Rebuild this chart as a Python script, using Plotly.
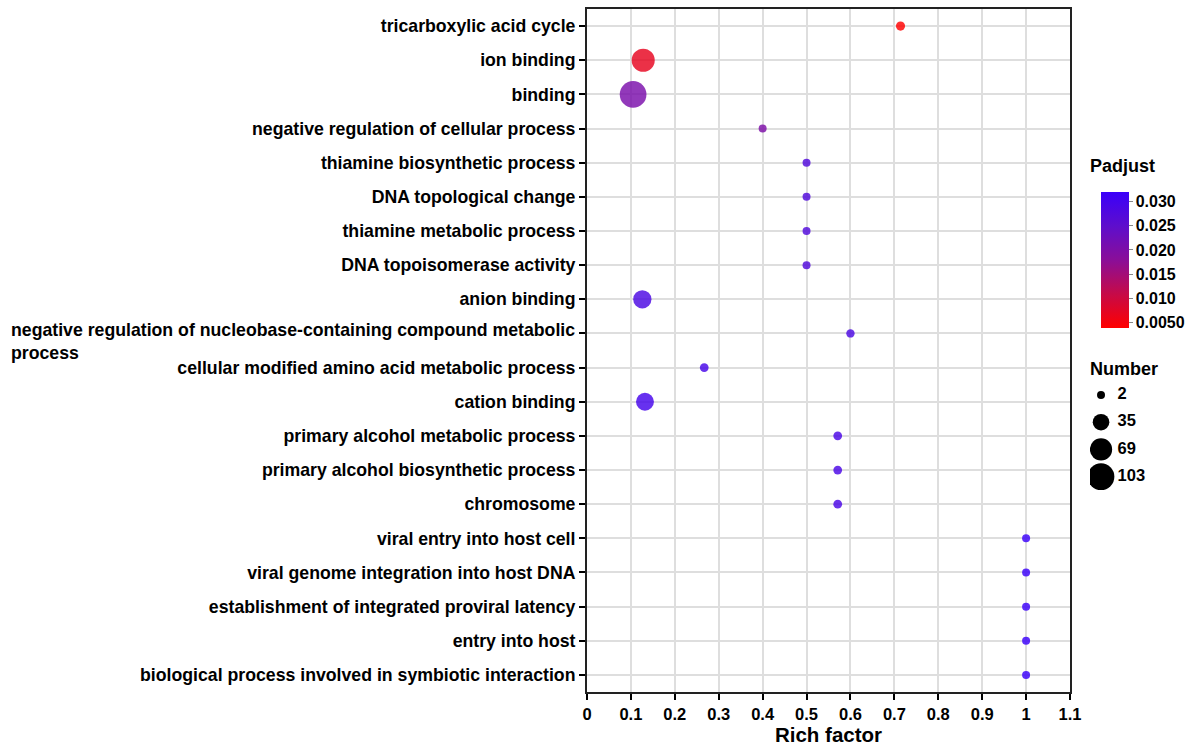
import math
import plotly.graph_objects as go

# ---------------- data ----------------
terms = [
    "tricarboxylic acid cycle",
    "ion binding",
    "binding",
    "negative regulation of cellular process",
    "thiamine biosynthetic process",
    "DNA topological change",
    "thiamine metabolic process",
    "DNA topoisomerase activity",
    "anion binding",
    "negative regulation of nucleobase-containing compound metabolic process",
    "cellular modified amino acid metabolic process",
    "cation binding",
    "primary alcohol metabolic process",
    "primary alcohol biosynthetic process",
    "chromosome",
    "viral entry into host cell",
    "viral genome integration into host DNA",
    "establishment of integrated proviral latency",
    "entry into host",
    "biological process involved in symbiotic interaction",
]
rich_factor = [0.714, 0.128, 0.105, 0.40, 0.50, 0.50, 0.50, 0.50, 0.126, 0.60,
               0.267, 0.132, 0.571, 0.571, 0.571, 1.0, 1.0, 1.0, 1.0, 1.0]
number = [5, 75, 103, 2, 2, 2, 2, 2, 44, 3,
          4, 42, 4, 4, 4, 2, 2, 2, 2, 2]
padjust = [0.0039, 0.0068, 0.0205, 0.0200, 0.0275, 0.0275, 0.0275, 0.0275, 0.0285, 0.0285,
           0.0295, 0.0300, 0.0290, 0.0290, 0.0290, 0.0321, 0.0321, 0.0321, 0.0321, 0.0321]

x_ticks = [0, 0.1, 0.2, 0.3, 0.4, 0.5, 0.6, 0.7, 0.8, 0.9, 1.0, 1.1]
x_ticktext = ["0", "0.1", "0.2", "0.3", "0.4", "0.5", "0.6", "0.7", "0.8", "0.9", "1", "1.1"]
cb_ticks = [0.005, 0.010, 0.015, 0.020, 0.025, 0.030]
cb_ticktext = ["0.0050", "0.010", "0.015", "0.020", "0.025", "0.030"]
legend_numbers = [2, 35, 69, 103]

# ---------------- styling ----------------
FONT = "Liberation Sans, Arial, sans-serif"
CMIN, CMAX = 0.00388, 0.03207
colorscale = [[0.0, "#FF0000"], [0.25, "#C60A48"], [0.5, "#8A0E98"],
              [0.75, "#5E0ECC"], [1.0, "#3A00FA"]]
VMIN, VMAX = min(legend_numbers), max(legend_numbers)
DMIN, DMAX = 8.0, 26.7


def size_px(v):
    # ggplot-like area scale: area linear in value between DMIN and DMAX
    t = (v - VMIN) / (VMAX - VMIN)
    return math.sqrt(DMIN ** 2 + t * (DMAX ** 2 - DMIN ** 2))


WRAP_TERM = "negative regulation of nucleobase-containing compound metabolic process"
y_ticktext = ["" if t == WRAP_TERM else t for t in terms]

L, R, T, B = 587, 0, 9, 54
W, H = 1192, 746
PW, PH = W - L - R, H - T - B
MAIN_RIGHT = 1070


def px_x(p):
    return (p - L) / PW


def px_y(p):
    return (H - B - p) / PH


YFONT = 17.7

fig = go.Figure()

fig.add_trace(go.Scatter(
    x=rich_factor, y=terms, mode="markers",
    marker=dict(
        size=[size_px(v) for v in number],
        color=padjust, colorscale=colorscale, cmin=CMIN, cmax=CMAX,
        opacity=0.82, line=dict(width=0),
        colorbar=dict(
            thickness=28, thicknessmode="pixels",
            len=136, lenmode="pixels",
            x=px_x(1100.7), xanchor="left", xpad=0,
            y=px_y(191.7), yanchor="top", ypad=0,
            tickvals=cb_ticks, ticktext=cb_ticktext,
            ticks="outside", ticklen=4, tickwidth=1, tickcolor="#888888",
            tickfont=dict(family=FONT, size=16, color="black", weight="bold"),
            outlinewidth=0,
        ),
    ),
    showlegend=False, hoverinfo="x+y",
))

# size legend (auxiliary axes)
fig.add_trace(go.Scatter(
    x=[0.108] * len(legend_numbers), y=list(range(len(legend_numbers))),
    mode="markers", marker=dict(size=[size_px(v) for v in legend_numbers], color="#000000",
                                opacity=1, line=dict(width=0)),
    xaxis="x2", yaxis="y2", showlegend=False, hoverinfo="skip",
))
fig.add_trace(go.Scatter(
    x=[0.27] * len(legend_numbers), y=list(range(len(legend_numbers))),
    mode="text", text=[str(v) for v in legend_numbers], textposition="middle right",
    textfont=dict(family=FONT, size=16.5, color="black", weight="bold"),
    xaxis="x2", yaxis="y2", showlegend=False, hoverinfo="skip",
))

fig.update_layout(
    width=W, height=H,
    margin=dict(l=L, r=R, t=T, b=B, autoexpand=False),
    paper_bgcolor="white", plot_bgcolor="white",
    font=dict(family=FONT, color="black"),
    xaxis=dict(
        domain=[0, px_x(MAIN_RIGHT)], range=[0, 1.1],
        tickvals=x_ticks, ticktext=x_ticktext,
        tickfont=dict(family=FONT, size=16.5, color="black", weight="bold"),
        ticks="outside", ticklen=6, tickwidth=1.5, tickcolor="black",
        showgrid=True, gridcolor="#DEDEDE", gridwidth=1.5,
        showline=True, linecolor="#222222", linewidth=2, mirror=True,
        zeroline=False,
        title=dict(text="Rich factor", standoff=4,
                   font=dict(family=FONT, size=20.5, color="black", weight="bold")),
    ),
    yaxis=dict(
        type="category", categoryorder="array", categoryarray=terms,
        range=[len(terms) - 0.5, -0.5],
        tickvals=terms, ticktext=y_ticktext,
        tickfont=dict(family=FONT, size=YFONT, color="black", weight="bold"),
        ticks="outside", ticklen=6, tickwidth=1.5, tickcolor="black",
        showgrid=True, gridcolor="#DEDEDE", gridwidth=1.5,
        showline=True, linecolor="#222222", linewidth=2, mirror=True,
        zeroline=False,
    ),
    xaxis2=dict(domain=[px_x(1090), 1.0], range=[0, 1], anchor="y2", visible=False,
                fixedrange=True),
    yaxis2=dict(domain=[px_y(490.3), px_y(381.4)], range=[len(legend_numbers) - 0.5, -0.5],
                anchor="x2", visible=False, fixedrange=True),
    annotations=[
        dict(text=WRAP_TERM.replace(" metabolic process", " metabolic<br>process"),
             xref="paper", yref="y", x=0, y=WRAP_TERM, xanchor="right", yanchor="middle",
             xshift=-10, yshift=-8, align="left", showarrow=False,
             font=dict(family=FONT, size=YFONT, color="black", weight="bold")),
        dict(text="Padjust", xref="paper", yref="paper", x=px_x(1088), y=px_y(166),
             xanchor="left", yanchor="middle", showarrow=False,
             font=dict(family=FONT, size=18, color="black", weight="bold")),
        dict(text="Number", xref="paper", yref="paper", x=px_x(1088), y=px_y(369),
             xanchor="left", yanchor="middle", showarrow=False,
             font=dict(family=FONT, size=18, color="black", weight="bold")),
    ],
)

fig.write_html("out.html")
